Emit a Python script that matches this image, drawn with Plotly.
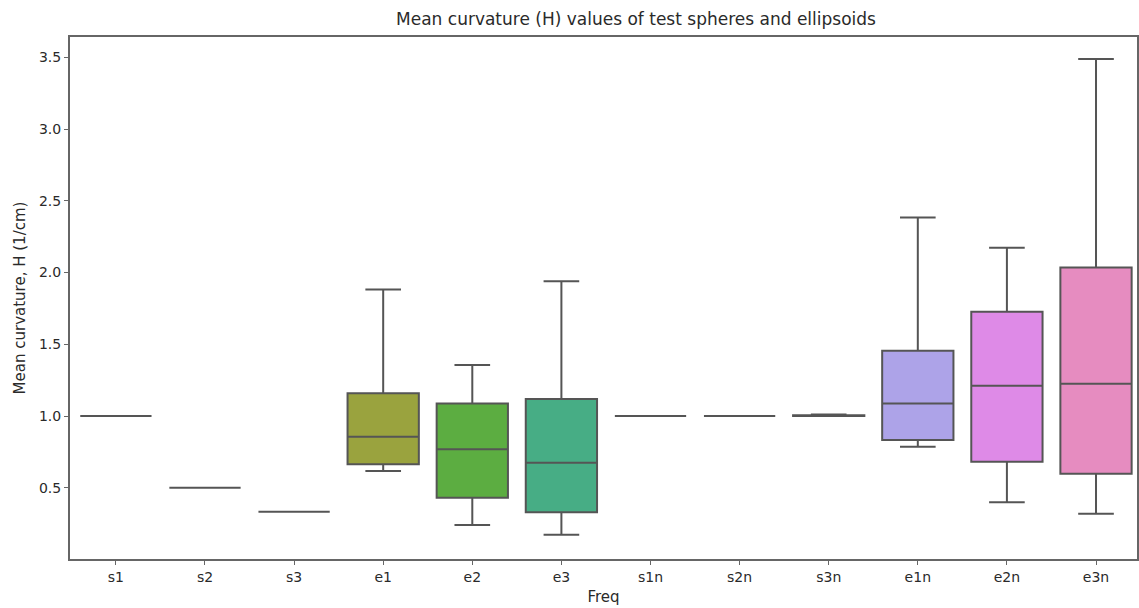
import plotly.graph_objects as go

# Box statistics per test shape (mean curvature H, 1/cm)
shapes = ["s1", "s2", "s3", "e1", "e2", "e3", "s1n", "s2n", "s3n", "e1n", "e2n", "e3n"]
lower_whisker = [1.0, 0.5, 0.333, 0.617, 0.241, 0.173, 1.0, 1.0, 1.0, 0.786, 0.399, 0.320]
q1_values = [1.0, 0.5, 0.333, 0.664, 0.431, 0.329, 1.0, 1.0, 1.0, 0.833, 0.682, 0.598]
median_values = [1.0, 0.5, 0.333, 0.856, 0.768, 0.675, 1.0, 1.0, 1.0, 1.088, 1.211, 1.225]
q3_values = [1.0, 0.5, 0.333, 1.158, 1.088, 1.118, 1.0, 1.0, 1.005, 1.455, 1.726, 2.035]
upper_whisker = [1.0, 0.5, 0.333, 1.882, 1.355, 1.940, 1.0, 1.0, 1.01, 2.384, 2.172, 3.488]
y_ticks = [0.5, 1.0, 1.5, 2.0, 2.5, 3.0, 3.5]

# Desaturated husl-like palette, one colour per shape
palette = ["#d9828a", "#d1906a", "#b59a4a", "#9aa33e", "#5cad41", "#47ad85",
           "#49aaa6", "#4ea6c4", "#7fa0e0", "#ada3e8", "#de8ae7", "#e68cc0"]

edge = "#555555"
fig = go.Figure()
for i, name in enumerate(shapes):
    fig.add_trace(go.Box(
        x=[name],
        q1=[q1_values[i]],
        median=[median_values[i]],
        q3=[q3_values[i]],
        lowerfence=[lower_whisker[i]],
        upperfence=[upper_whisker[i]],
        fillcolor=palette[i],
        line=dict(color=edge, width=2),
        width=0.8,
        whiskerwidth=0.5,
        boxpoints=False,
        showlegend=False,
        hoverinfo="skip",
    ))

font_family = "DejaVu Sans"
fig.update_layout(
    width=1139,
    height=608,
    margin=dict(l=70, r=0, t=37, b=49),
    plot_bgcolor="white",
    paper_bgcolor="white",
    font=dict(family=font_family, color="#2a2a2a", size=14),
    title=dict(
        text="Mean curvature (H) values of test spheres and ellipsoids",
        x=636 / 1139, xanchor="center", y=1 - 19 / 608, yanchor="middle",
        font=dict(size=17, family=font_family, color="#2a2a2a"),
    ),
    xaxis=dict(
        type="category",
        categoryorder="array",
        categoryarray=shapes,
        range=[-0.515, 11.46],
        showgrid=False,
        zeroline=False,
        showline=True,
        linecolor="#666666",
        linewidth=2,
        mirror=True,
        ticks="outside",
        ticklen=4,
        tickcolor="#666666",
        tickfont=dict(size=14),
        title=dict(text="Freq", font=dict(size=15), standoff=8),
    ),
    yaxis=dict(
        range=[0.004, 3.641],
        tickvals=y_ticks,
        ticktext=[f"{v:.1f}" for v in y_ticks],
        showgrid=False,
        zeroline=False,
        showline=True,
        linecolor="#666666",
        linewidth=2,
        mirror=True,
        ticks="outside",
        ticklen=4,
        tickcolor="#666666",
        tickfont=dict(size=14),
        title=dict(text="Mean curvature, H (1/cm)", font=dict(size=15), standoff=10),
    ),
)

fig.write_html("out.html")
